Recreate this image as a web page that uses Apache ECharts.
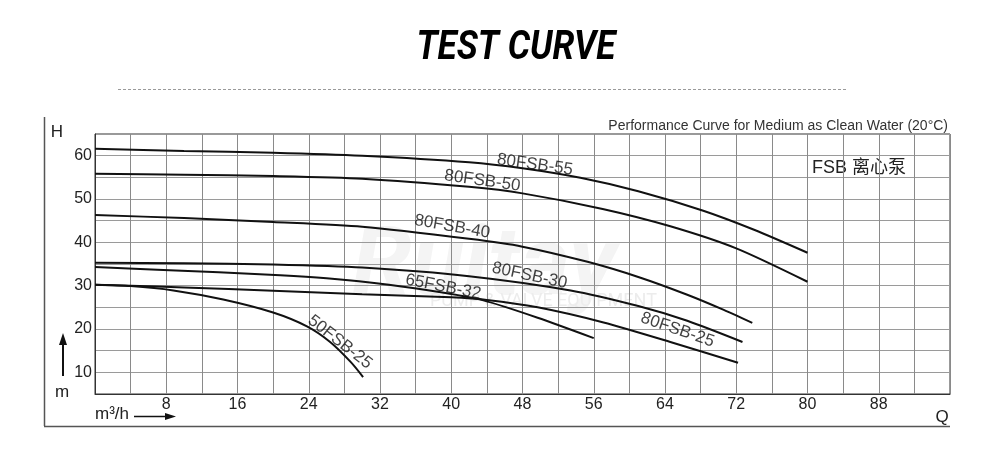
<!DOCTYPE html>
<html>
<head>
<meta charset="utf-8">
<script src="https://cdn.jsdelivr.net/npm/echarts@6/dist/echarts.min.js"></script>
<style>html,body{margin:0;padding:0;background:#fff;}#c{width:1000px;height:455px;}</style>
</head>
<body>
<div id="c"></div>
<script>
// ---- data (Q in m3/h, H in m) ----
var curveNames = ['80FSB-55','80FSB-50','80FSB-40','80FSB-30','65FSB-32','80FSB-25','50FSB-25'];
var c80_55 = [[0,61.6],[10,61.1],[20,60.7],[30,60.0],[42,58.5],[48,57.1],[54.5,54.9],[61,51.8],[68.3,47.3],[74,42.9],[80,37.6]];
var c80_50 = [[0,55.8],[10,55.6],[20,55.3],[30,54.7],[42,52.8],[48,51.3],[57,47.7],[64.6,43.7],[72,38.6],[80,30.9]];
var c80_40 = [[0,46.3],[10,45.6],[20,44.7],[30,43.6],[42,40.8],[48,39.0],[55.3,35.5],[61,32.0],[66.5,27.9],[70.6,24.4],[73.8,21.4]];
var c80_30 = [[0,35.3],[10,35.2],[20,34.9],[30,34.2],[42,32.2],[53.4,28.9],[61,25.3],[66.5,21.9],[72.7,17.0]];
var c65_32 = [[0,34.3],[7,33.7],[20.8,32.4],[26,31.7],[33,30.2],[39,28.4],[43.6,26.6],[49.7,22.6],[56,17.9]];
var c80_25 = [[0,30.2],[4,30.0],[10,29.6],[20,28.8],[30,28.0],[40,27.3],[44,26.7],[49.7,25.0],[57.1,21.5],[64.6,17.0],[72.2,12.2]];
var c50_25 = [[0,30.2],[4,29.9],[8.8,28.9],[14.4,26.8],[20,23.8],[23.8,20.6],[26.4,17.0],[28.7,12.4],[30.1,8.9]];
var curves = [c80_55,c80_50,c80_40,c80_30,c65_32,c80_25,c50_25];
// label anchors along curves: [Q, H, tilt in degrees]
var labelAnchors = [[49.4,57.9,-8],[43.5,54.2,-8],[40.1,43.6,-10],[48.8,32.3,-12],[39.1,29.7,-11],[65.4,19.8,-19],[27.5,17.0,-38]];
var xTicks = [8,16,24,32,40,48,56,64,72,80,88];
var yTicks = [10,20,30,40,50,60];

var chart = echarts.init(document.getElementById('c'));
var series = curves.map(function(d, i){
  return {type:'line', name:curveNames[i], data:d, smooth:0.25, showSymbol:false, silent:true,
    lineStyle:{color:'#111', width:2}, z:3};
});
series.push({
  type:'scatter', symbolSize:0, silent:true, z:4,
  data: labelAnchors.map(function(a, i){
    return {name:curveNames[i], value:[a[0],a[1]], label:{rotate:a[2]}};
  }),
  label:{show:true, position:'inside', formatter:'{b}', color:'#111',
    fontFamily:'Liberation Sans, Arial, sans-serif', fontSize:17}
});

var FF = 'Liberation Sans, Arial, sans-serif';
function T(o){ var s = Object.assign({fontFamily:FF, fill:'#222'}, o.style); o.style = s; o.type='text'; return o; }

chart.setOption({
  animation:false,
  backgroundColor:'#fff',
  grid:{left:95, right:50, top:134, bottom:61, show:true, borderColor:'#333', borderWidth:1, backgroundColor:'transparent'},
  xAxis:{type:'value', min:0, max:96, interval:4,
    axisLine:{show:true, lineStyle:{color:'#333'}}, axisTick:{show:false},
    axisLabel:{margin:3, color:'#222', fontSize:16, fontFamily:FF,
      formatter:function(v){ return xTicks.indexOf(v) >= 0 ? String(v) : ''; }},
    splitLine:{show:true, lineStyle:{color:'#8a8a8a', width:1}}},
  yAxis:{type:'value', min:5, max:65, interval:5,
    axisLine:{show:true, lineStyle:{color:'#333'}}, axisTick:{show:false},
    axisLabel:{margin:3, color:'#222', fontSize:16, fontFamily:FF,
      formatter:function(v){ return yTicks.indexOf(v) >= 0 ? String(v) : ''; }},
    splitLine:{show:true, lineStyle:{color:'#9a9a9a', width:1}}},
  series:series,
  graphic:[
    // watermark
    T({left:352, top:222, z:-10, style:{text:'Ruitay', fontFamily:'Roboto, sans-serif', fontSize:96, fontWeight:'bold', fontStyle:'italic', fill:'#f4f4f4'}}),
    T({left:430, top:292, z:-10, style:{text:'PUMP & VALVE EQUIPMENT', fontFamily:'Roboto, sans-serif', fontSize:18, fill:'#ececec'}}),
    // title
    T({x:516, y:49, scaleX:0.88, originX:0, originY:0, style:{text:'TEST CURVE', fontFamily:'Roboto, sans-serif', fontSize:40, fontWeight:'bold', fontStyle:'italic', fill:'#000', align:'center', verticalAlign:'middle'}}),
    {type:'line', shape:{x1:118, y1:89.5, x2:846, y2:89.5}, style:{stroke:'#9a9a9a', lineWidth:1, lineDash:[3,2]}},
    // frame
    {type:'line', shape:{x1:44.5, y1:117, x2:44.5, y2:426}, style:{stroke:'#555', lineWidth:1.5}},
    {type:'line', shape:{x1:44, y1:426.5, x2:950, y2:426.5}, style:{stroke:'#555', lineWidth:1.5}},
    // header text
    T({x:948, y:126, style:{text:'Performance Curve for Medium as Clean Water (20°C)', fontSize:14, align:'right', verticalAlign:'middle', fill:'#333'}}),
    T({x:812, y:168, style:{text:'FSB 离心泵', fontFamily:'"Liberation Sans", "Noto Sans CJK SC", sans-serif', fontSize:18, align:'left', verticalAlign:'middle', fill:'#222'}}),
    // axis names
    T({x:57, y:132, style:{text:'H', fontSize:17, align:'center', verticalAlign:'middle'}}),
    T({x:62, y:392, style:{text:'m', fontSize:17, align:'center', verticalAlign:'middle'}}),
    {type:'line', shape:{x1:63, y1:376, x2:63, y2:342}, style:{stroke:'#111', lineWidth:2}},
    {type:'polygon', shape:{points:[[59,345],[67,345],[63,333]]}, style:{fill:'#111'}},
    T({x:95, y:414, style:{text:'m³/h', fontSize:17, align:'left', verticalAlign:'middle'}}),
    {type:'line', shape:{x1:134, y1:416.5, x2:168, y2:416.5}, style:{stroke:'#111', lineWidth:1.5}},
    {type:'polygon', shape:{points:[[165,413],[165,420],[176,416.5]]}, style:{fill:'#111'}},
    T({x:942, y:417, style:{text:'Q', fontSize:17, align:'center', verticalAlign:'middle'}})
  ]
});
</script>
</body>
</html>
